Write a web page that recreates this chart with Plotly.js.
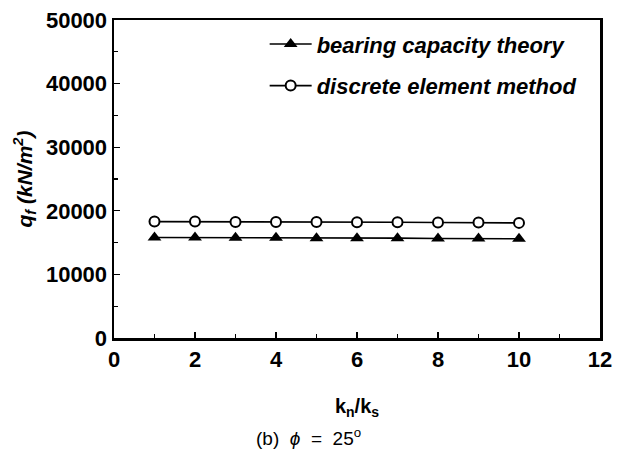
<!DOCTYPE html>
<html><head><meta charset="utf-8">
<script src="https://cdn.plot.ly/plotly-3.0.1.min.js"></script>
<style>html,body{margin:0;padding:0;background:#fff}</style>
</head><body>
<div id="chart" style="width:626px;height:457px"></div>
<script>
const kRatio = [1, 2, 3, 4, 5, 6, 7, 8, 9, 10];
const bearingTheory = [15800, 15800, 15750, 15750, 15700, 15700, 15700, 15650, 15650, 15600];
const discreteElement = [18300, 18300, 18250, 18250, 18250, 18200, 18200, 18150, 18150, 18100];
const seriesNames = ['bearing capacity theory', 'discrete element method'];

const fontFam = 'Liberation Sans, Arial, sans-serif';
const traces = [
  {x: kRatio, y: bearingTheory, name: seriesNames[0], legendgroup: 'a', mode: 'lines+markers',
   line: {color: '#000', width: 1.6},
   marker: {symbol: 'triangle-up', size: 12, color: '#000'}},
  {x: kRatio, y: discreteElement, name: seriesNames[1], legendgroup: 'b', mode: 'lines+markers',
   line: {color: '#000', width: 1.6},
   marker: {symbol: 'circle', size: 10, color: '#fff', line: {color: '#000', width: 2}}}
];
const layout = {
  width: 626, height: 457,
  margin: {l: 114, r: 26, t: 20, b: 119},
  paper_bgcolor: '#fff', plot_bgcolor: '#fff',
  showlegend: true,
  legend: {x: 0.31, y: 0.99, xanchor: 'left', yanchor: 'top', bgcolor: 'rgba(0,0,0,0)',
    font: {family: fontFam, size: 22, color: '#000', weight: 'bold', style: 'italic'},
    tracegroupgap: 10, itemwidth: 42},
  xaxis: {range: [0, 12], dtick: 2, tick0: 0, ticks: 'inside', ticklen: 6, tickwidth: 1.2, tickcolor: '#000',
    minor: {dtick: 1, ticks: 'inside', ticklen: 4, tickcolor: '#000'},
    showgrid: false, zeroline: false, showline: true, linecolor: '#000', linewidth: 2.5, mirror: true,
    tickfont: {family: fontFam, size: 22, color: '#000', weight: 'bold'},
    title: {text: 'k<sub>n</sub>/k<sub>s</sub>', standoff: 28,
      font: {family: fontFam, size: 20, color: '#000', weight: 'bold'}}},
  yaxis: {range: [0, 50000], dtick: 10000, tick0: 0, tickformat: 'd', ticks: 'inside', ticklen: 6, tickwidth: 1.2, tickcolor: '#000',
    minor: {dtick: 5000, ticks: 'inside', ticklen: 4, tickcolor: '#000'},
    showgrid: false, zeroline: false, showline: true, linecolor: '#000', linewidth: 2.5, mirror: true,
    tickfont: {family: fontFam, size: 22, color: '#000', weight: 'bold'},
    title: {text: 'q<sub>f</sub> (kN/m<sup>2</sup>)', standoff: 8,
      font: {family: fontFam, size: 21, color: '#000', weight: 'bold', style: 'italic'}}},
  annotations: [{xref: 'paper', yref: 'paper', x: 0.4, y: -0.31, xanchor: 'center', yanchor: 'middle',
    showarrow: false, text: '(b)\u00A0\u00A0<i>ϕ</i>\u00A0\u00A0=\u00A0\u00A025<sup>o</sup>',
    font: {family: fontFam, size: 19, color: '#000'}}]
};
Plotly.newPlot('chart', traces, layout, {displayModeBar: false, staticPlot: true});
</script>
</body></html>
